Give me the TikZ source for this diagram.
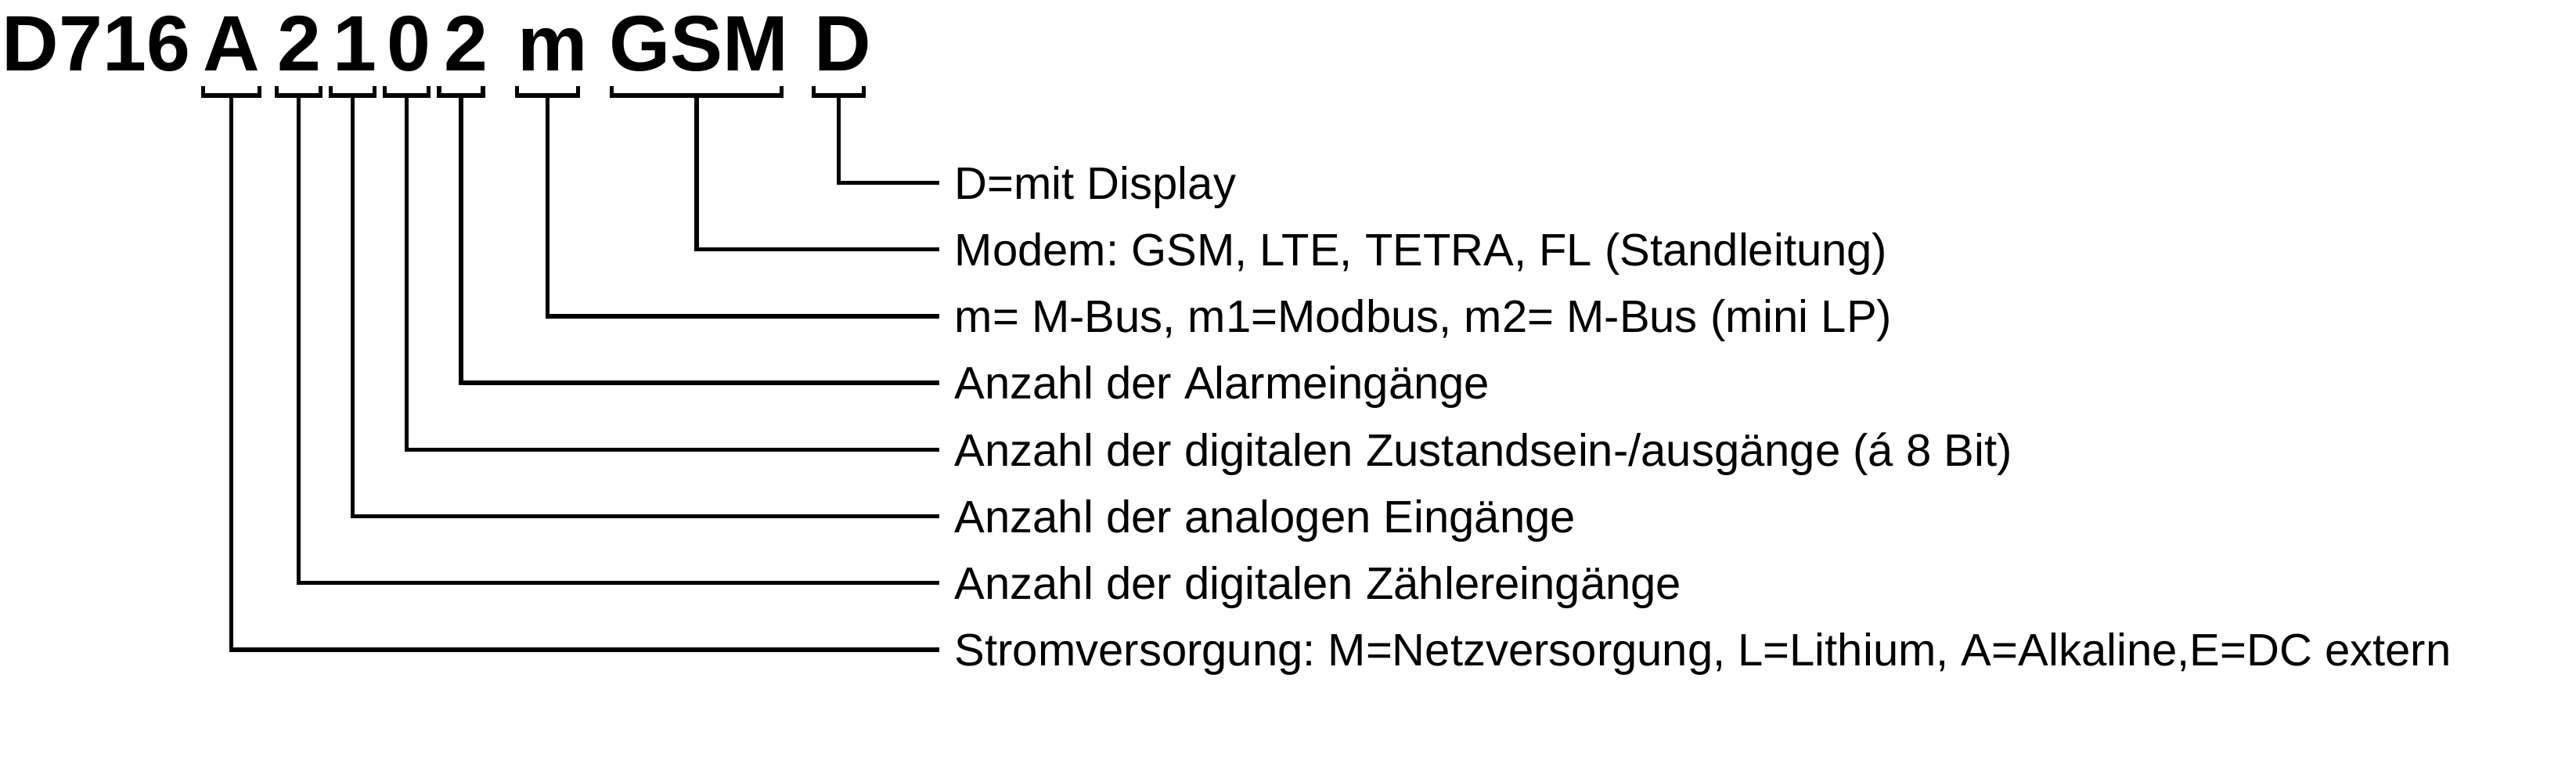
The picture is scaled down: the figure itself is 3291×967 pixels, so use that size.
\documentclass[tikz,border=0pt]{standalone}
\usepackage{fontspec}
\setmainfont{Liberation Sans}
\usetikzlibrary{calc}
\frenchspacing
\tikzset{
  kopf/.style={font=\bfseries\fontsize{20.1pt}{22pt}\selectfont,inner sep=0pt,anchor=base},
  beschr/.style={font=\fontsize{11.6pt}{13pt}\selectfont,anchor=west,inner sep=0pt,
    inner xsep=3.4pt,text height=8.3pt,text depth=0pt}
}

\begin{document}
\begin{tikzpicture}[x=0.2pt,y=-0.2pt,line width=1.1pt]
\useasboundingbox (0,0) rectangle (3291,967);
% Typenbezeichnung
\node[kopf,anchor=base west] (hTyp) at (0,90.7) {D716};
\node[kopf] (hA) at (296,90.7) {A};
\node[kopf] (hZ) at (382.5,90.7) {2};
\node[kopf] (hAn) at (453,90.7) {1};
\node[kopf] (hDig) at (522,90.7) {0};
\node[kopf] (hAl) at (595,90.7) {2};
\node[kopf] (hM) at (706.5,90.7) {m};
\node[kopf] (hGSM) at (893,90.7) {GSM};
\node[kopf] (hD) at (1077,90.7) {D};
% Klammern
\foreach \n/\x/\w in {A/295.5/36,Z/381.5/28,An/450.5/28,Dig/519.5/28,
    Al/589/28,M/699.5/39,GSM/890/108.5,D/1071.5/32} {
  \coordinate (b\n) at (\x,122);
  \draw (b\n) ++(-\w,-11.5) |- ++(2*\w,11.5) -- ++(0,-11.5);
}
% Erklaerungen
\node[beschr] (tD) at (1200,233.5) {D=mit Display};
\node[beschr] (tGSM) at (1200,318.7) {Modem: GSM, LTE, TETRA, FL (Standleitung)};
\node[beschr] (tM) at (1200,403.9) {m= M-Bus, m1=Modbus, m2= M-Bus (mini LP)};
\node[beschr] (tAl) at (1200,489.1) {Anzahl der Alarmeingänge};
\node[beschr] (tDig) at (1200,574.3) {Anzahl der digitalen Zustandsein-/ausgänge (á 8 Bit)};
\node[beschr] (tAn) at (1200,659.5) {Anzahl der analogen Eingänge};
\node[beschr] (tZ) at (1200,744.7) {Anzahl der digitalen Zählereingänge};
\node[beschr] (tA) at (1200,829.9)
  {Stromversorgung: M=Netzversorgung, L=Lithium, A=Alkaline,E=DC extern};
\foreach \n in {D,GSM,M,Al,Dig,An,Z,A}
  \draw (b\n) |- (t\n.west);
\end{tikzpicture}
\end{document}
